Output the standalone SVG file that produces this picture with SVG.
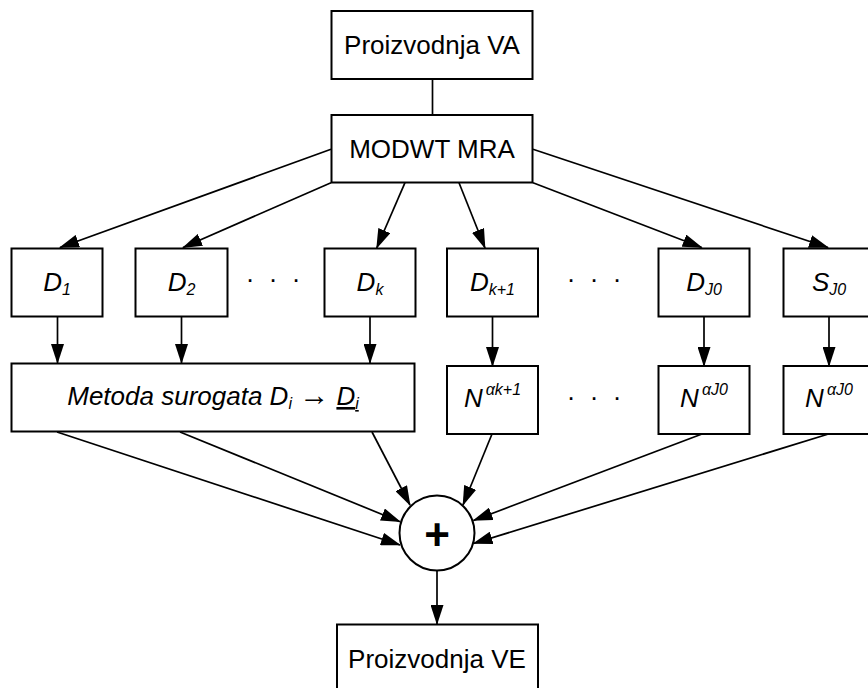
<svg xmlns="http://www.w3.org/2000/svg" width="868" height="688" viewBox="0 0 868 688">
<style>
.box{fill:#fff;stroke:#000;stroke-width:2}
.t{font-family:"Liberation Sans",Arial,sans-serif;font-size:26px;text-anchor:middle;fill:#000}
.it{font-style:italic}
.d{font-size:26px}
.dots{font-family:"Liberation Sans",Arial,sans-serif;font-size:26px;text-anchor:middle;fill:#000}
#connectors line{stroke:#000;stroke-width:1.7;fill:none}
.ar{marker-end:url(#ah)}
</style>
<defs>
<marker id="ah" markerUnits="userSpaceOnUse" markerWidth="20" markerHeight="13" viewBox="0 0 20 13" refX="19" refY="6.5" orient="auto">
<path d="M0,0 L20,6.5 L0,13 z" fill="#000"/>
</marker>
</defs>
<rect width="868" height="688" fill="#fff"/>
<g id="connectors">
<line x1="432.5" y1="79" x2="432.5" y2="115"/>
<line class="ar" x1="331" y1="149.3" x2="60" y2="247.5"/>
<line class="ar" x1="331" y1="182.7" x2="183" y2="247.5"/>
<line class="ar" x1="405" y1="182.7" x2="376.7" y2="248"/>
<line class="ar" x1="459" y1="182.7" x2="485" y2="248"/>
<line class="ar" x1="533" y1="182.7" x2="701.7" y2="247.5"/>
<line class="ar" x1="533" y1="149.3" x2="828" y2="247.5"/>
<line class="ar" x1="57.5" y1="316.5" x2="57.5" y2="363"/>
<line class="ar" x1="181.5" y1="316.5" x2="181.5" y2="363"/>
<line class="ar" x1="370" y1="316.5" x2="370" y2="363"/>
<line class="ar" x1="492.5" y1="316.5" x2="492.5" y2="366"/>
<line class="ar" x1="704" y1="317" x2="704" y2="366"/>
<line class="ar" x1="829" y1="317" x2="829" y2="366"/>
<line class="ar" x1="57" y1="432" x2="400" y2="545"/>
<line class="ar" x1="180" y1="432" x2="400" y2="521.7"/>
<line class="ar" x1="372" y1="432" x2="410" y2="505"/>
<line class="ar" x1="492" y1="434" x2="463" y2="505"/>
<line class="ar" x1="702" y1="434" x2="473.5" y2="520.5"/>
<line class="ar" x1="828.5" y1="434" x2="473.5" y2="543.5"/>
<line class="ar" x1="437" y1="571" x2="437" y2="624"/>
</g>
<g id="va"><rect class="box" x="331.5" y="11" width="201" height="68"/><text class="t" x="432" y="54">Proizvodnja VA</text></g>
<g id="modwt"><rect class="box" x="331.5" y="115" width="201" height="67.5"/><text class="t" x="432" y="157.5">MODWT MRA</text></g>
<g id="d1"><rect class="box" x="11.5" y="248.5" width="91" height="68"/><text class="t it d" x="57" y="290.5">D<tspan font-size="16" dy="4">1</tspan></text></g>
<g id="d2"><rect class="box" x="135.5" y="248.5" width="92" height="68"/><text class="t it d" x="181.5" y="290.5">D<tspan font-size="16" dy="4">2</tspan></text></g>
<g id="dk"><rect class="box" x="324.5" y="248.5" width="91" height="68"/><text class="t it d" x="370" y="290.5">D<tspan font-size="16" dy="4">k</tspan></text></g>
<g id="dk1"><rect class="box" x="447" y="248.5" width="91" height="68"/><text class="t it d" x="492.5" y="290.5">D<tspan font-size="16" dy="4">k+1</tspan></text></g>
<g id="dj0"><rect class="box" x="658.5" y="248.5" width="91" height="68"/><text class="t it d" x="704" y="290.5">D<tspan font-size="16" dy="4">J0</tspan></text></g>
<g id="sj0"><rect class="box" x="783.5" y="248.5" width="91" height="68"/><text class="t it d" x="829" y="290.5">S<tspan font-size="16" dy="4">J0</tspan></text></g>
<g id="dots1"><text class="dots" x="250 273 296" y="288">···</text></g>
<g id="dots2"><text class="dots" x="571 594 617" y="288">···</text></g>
<g id="dots3"><text class="dots" x="571 594 617" y="406">···</text></g>
<g id="metoda"><rect class="box" x="11.5" y="363.5" width="403" height="68"/><text class="t it" x="213" y="405">Metoda surogata D<tspan font-size="16" dy="4">i</tspan><tspan dy="-4"> </tspan><tspan font-style="normal" font-weight="bold" font-size="30">→</tspan><tspan> </tspan><tspan text-decoration="underline">D</tspan><tspan font-size="16" dy="4" text-decoration="underline">i</tspan></text></g>
<g id="nk1"><rect class="box" x="447" y="366" width="91" height="68"/><text class="t it d" x="492.5" y="406.5">N<tspan font-size="16" dx="3" dy="-12">αk+1</tspan></text></g>
<g id="nj0"><rect class="box" x="658.5" y="366" width="91" height="68"/><text class="t it d" x="704" y="406.5">N<tspan font-size="16" dx="3" dy="-12">αJ0</tspan></text></g>
<g id="ns0"><rect class="box" x="783.5" y="366" width="91" height="68"/><text class="t it d" x="829" y="406.5">N<tspan font-size="16" dx="3" dy="-12">αJ0</tspan></text></g>
<g id="sum"><circle cx="437" cy="533" r="37.5" fill="#fff" stroke="#000" stroke-width="2"/><text class="t" x="437" y="550" style="font-size:44px;font-weight:bold">+</text></g>
<g id="ve"><rect class="box" x="337" y="624.5" width="201" height="68"/><text class="t" x="437" y="667.5">Proizvodnja VE</text></g>
</svg>
